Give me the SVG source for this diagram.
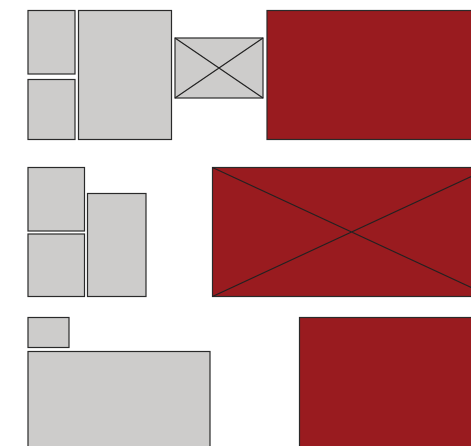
<svg xmlns="http://www.w3.org/2000/svg" width="471" height="446" viewBox="0 0 471 446">
<style>
.g{fill:#cdcccb;stroke:#2a2a2a;stroke-width:1.2}
.r{fill:#991b1f;stroke:#2a2a2a;stroke-width:1.2}
.x{stroke:#222;stroke-width:1.2;fill:none}
</style>
<rect width="471" height="446" fill="#fff"/>
<g id="n1"><rect class="g" x="28" y="10.5" width="47" height="63.5"/></g>
<g id="n2"><rect class="g" x="28" y="79.5" width="47" height="60"/></g>
<g id="n3"><rect class="g" x="78.5" y="10.5" width="93" height="129"/></g>
<g id="n4"><rect class="g" x="175" y="38" width="88" height="60"/><path class="x" d="M175 38L263 98M263 38L175 98"/></g>
<g id="n5"><rect class="r" x="267" y="10.5" width="240" height="129"/></g>
<g id="n6"><rect class="g" x="28" y="167.5" width="56.5" height="63.5"/></g>
<g id="n7"><rect class="g" x="28" y="234" width="56.5" height="62.5"/></g>
<g id="n8"><rect class="g" x="87.5" y="193.5" width="58.5" height="103"/></g>
<g id="n9"><rect class="r" x="212.5" y="167.5" width="278" height="129"/><path class="x" d="M212.5 167.5L490.5 296.5M490.5 167.5L212.5 296.5"/></g>
<g id="n10"><rect class="g" x="28" y="317.5" width="41" height="30"/></g>
<g id="n11"><rect class="g" x="28" y="351.5" width="182" height="120"/></g>
<g id="n12"><rect class="r" x="299.5" y="317.5" width="200" height="150"/></g>
<g id="connectors"></g>
</svg>
